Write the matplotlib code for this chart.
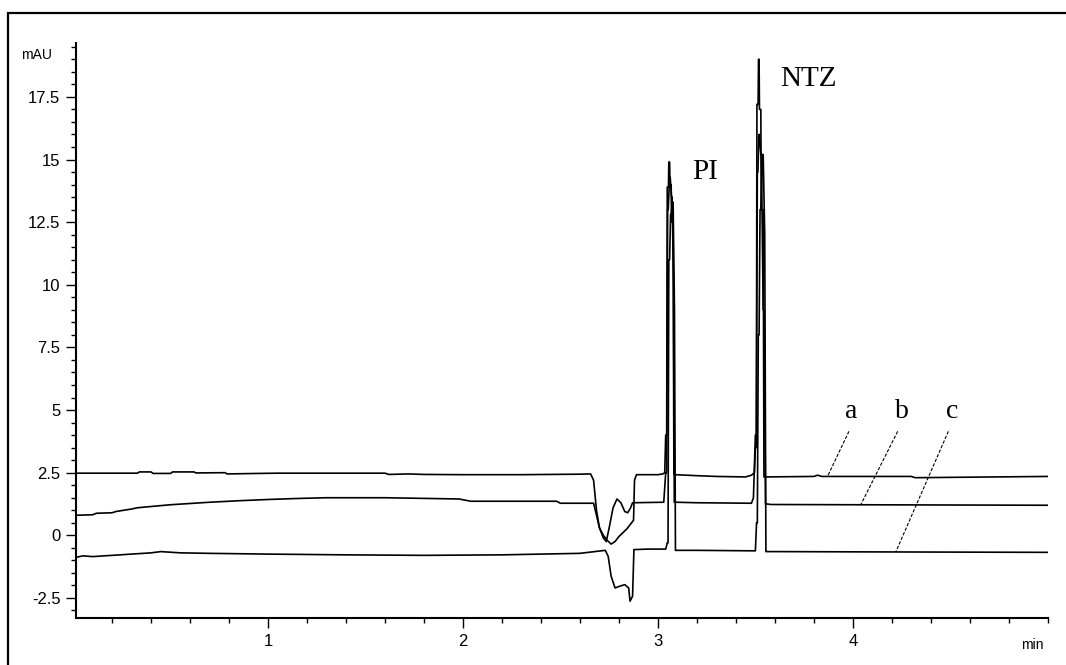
import matplotlib
matplotlib.use('Agg')
import matplotlib.pyplot as plt
from matplotlib.patches import Rectangle
from matplotlib.ticker import MultipleLocator, FixedLocator

# Chromatogram traces (time in min, signal in mAU)
a_time = [0.015, 0.33, 0.34, 0.40, 0.41, 0.50, 0.51, 0.62, 0.63, 0.78, 0.79, 0.95, 1.05,
          1.60, 1.62, 1.72, 1.80, 2.00, 2.30, 2.60, 2.655, 2.67, 2.685, 2.70, 2.72, 2.74,
          2.76, 2.78, 2.80, 2.82, 2.84, 2.86, 2.875, 2.88, 2.89, 3.00, 3.025,
          3.035, 3.040, 3.045, 3.048, 3.054, 3.056, 3.060, 3.062, 3.068, 3.070, 3.078,
          3.082, 3.09, 3.20, 3.30, 3.45, 3.48,
          3.495, 3.500, 3.505, 3.508, 3.514, 3.516, 3.519, 3.521, 3.528, 3.530, 3.540,
          3.544, 3.55, 3.80, 3.82, 3.84, 4.30, 4.32, 5.0]
a_signal = [2.48, 2.48, 2.53, 2.53, 2.47, 2.47, 2.53, 2.53, 2.49, 2.50, 2.45, 2.47, 2.48,
            2.48, 2.43, 2.45, 2.43, 2.42, 2.42, 2.44, 2.45, 2.2, 1.0, 0.3, 0.0, -0.2,
            -0.35, -0.25, -0.05, 0.1, 0.25, 0.45, 0.6, 2.2, 2.42, 2.42, 2.45,
            2.5, 4.0, 4.0, 13.9, 13.9, 14.9, 14.9, 14.0, 14.0, 12.5, 12.5,
            2.42, 2.42, 2.38, 2.35, 2.33, 2.40,
            2.5, 3.5, 3.5, 17.2, 17.2, 19.0, 19.0, 17.0, 17.0, 13.0, 13.0,
            2.33, 2.33, 2.35, 2.40, 2.35, 2.35, 2.30, 2.35]

b_time = [0.015, 0.10, 0.12, 0.20, 0.22, 0.30, 0.33, 0.40, 0.50, 0.60, 0.70, 0.85, 1.00,
          1.15, 1.30, 1.60, 1.98, 2.04, 2.48, 2.50, 2.67, 2.685, 2.70, 2.72, 2.735, 2.75,
          2.77, 2.79, 2.81, 2.83, 2.845, 2.86, 2.87, 3.03,
          3.040, 3.045, 3.050, 3.053, 3.060, 3.063, 3.070, 3.073, 3.080, 3.084, 3.095,
          3.20, 3.48, 3.49,
          3.500, 3.505, 3.510, 3.513, 3.518, 3.521, 3.528, 3.531, 3.540, 3.545, 3.552,
          3.56, 3.58, 4.00, 5.0]
b_signal = [0.80, 0.82, 0.88, 0.90, 0.95, 1.05, 1.10, 1.15, 1.22, 1.27, 1.32, 1.38, 1.43,
            1.47, 1.50, 1.50, 1.45, 1.36, 1.36, 1.28, 1.28, 0.8, 0.3, -0.1, -0.25, 0.3,
            1.1, 1.45, 1.3, 0.95, 0.9, 1.1, 1.3, 1.32,
            2.5, 2.5, 13.0, 13.0, 14.3, 14.3, 13.5, 13.5, 10.0, 1.32, 1.32,
            1.30, 1.28, 1.50,
            4.0, 4.0, 14.5, 14.5, 16.0, 16.0, 15.2, 15.2, 9.0, 9.0, 1.25,
            1.25, 1.23, 1.22, 1.20]

c_time = [0.015, 0.05, 0.10, 0.20, 0.30, 0.40, 0.45, 0.55, 0.70, 1.00, 1.40, 1.80, 2.20,
          2.60, 2.73, 2.745, 2.76, 2.78, 2.805, 2.83, 2.85, 2.857, 2.87, 2.877, 2.95,
          2.985, 3.04,
          3.048, 3.052, 3.056, 3.060, 3.065, 3.068, 3.074, 3.078, 3.085, 3.090, 3.10,
          3.20, 3.50,
          3.506, 3.510, 3.515, 3.519, 3.524, 3.528, 3.536, 3.540, 3.548, 3.554, 3.56,
          3.58, 3.60, 4.00, 5.0]
c_signal = [-0.88, -0.82, -0.85, -0.80, -0.75, -0.70, -0.65, -0.70, -0.72, -0.75, -0.78,
            -0.80, -0.78, -0.72, -0.60, -0.84, -1.63, -2.10, -2.03, -1.97, -2.10, -2.63,
            -2.43, -0.57, -0.55, -0.55, -0.55,
            -0.3, -0.3, 11.0, 11.0, 12.8, 12.8, 13.3, 13.3, 9.0, -0.6, -0.6,
            -0.6, -0.62,
            0.5, 0.5, 8.0, 8.0, 13.0, 13.0, 15.2, 15.2, 12.0, -0.65, -0.65,
            -0.65, -0.65, -0.66, -0.68]

# Peak labels and trace labels
peak_names = ['PI', 'NTZ']
peak_pos = [(3.24, 14.5), (3.77, 18.2)]
trace_names = ['a', 'b', 'c']
trace_label_pos = [(3.99, 4.95), (4.25, 4.95), (4.51, 4.95)]
leader_start = [(3.98, 4.15), (4.23, 4.15), (4.49, 4.15)]
leader_end = [(3.87, 2.35), (4.04, 1.21), (4.22, -0.67)]

fig = plt.figure(figsize=(10.66, 6.65), dpi=100)
ax = fig.add_axes([0.0713, 0.0707, 0.9118, 0.8646])

for t, s in [(a_time, a_signal), (b_time, b_signal), (c_time, c_signal)]:
    ax.plot(t, s, color='black', lw=1.2)

for name, (x, y) in zip(peak_names, peak_pos):
    ax.text(x, y, name, family='Liberation Serif', fontsize=21, ha='center', va='center')

for name, (x, y), (x0, y0), (x1, y1) in zip(trace_names, trace_label_pos, leader_start, leader_end):
    ax.text(x, y, name, family='Liberation Serif', fontsize=20, ha='center', va='center')
    ax.plot([x0, x1], [y0, y1], color='black', lw=0.8, linestyle=(0, (3, 1.5)))

ax.set_xlim(0.015, 5.001)
ax.set_ylim(-3.3, 19.65)
ax.xaxis.set_major_locator(FixedLocator([1, 2, 3, 4]))
ax.xaxis.set_minor_locator(MultipleLocator(0.2))
ax.yaxis.set_minor_locator(MultipleLocator(0.5))
ax.set_yticks([-2.5, 0, 2.5, 5, 7.5, 10, 12.5, 15, 17.5])
ax.set_yticklabels(['-2.5', '0', '2.5', '5', '7.5', '10', '12.5', '15', '17.5'])

for sp in ['top', 'right']:
    ax.spines[sp].set_visible(False)
for sp in ['left', 'bottom']:
    ax.spines[sp].set_linewidth(1.5)

ax.tick_params(which='major', direction='out', length=7.2, width=1.0, labelsize=12, pad=4)
ax.tick_params(which='minor', direction='out', length=3.6, width=1.0)
for lab in ax.get_xticklabels() + ax.get_yticklabels():
    lab.set_family('Liberation Sans')

fig.text(37 / 1066, 1 - 55 / 665, 'mAU', family='Liberation Sans', fontsize=10, ha='center', va='center')
fig.text(1032 / 1066, 1 - 645 / 665, 'min', family='Liberation Sans', fontsize=10, ha='center', va='center')

# frame round the whole picture
fig.patches.append(Rectangle((8 / 1066, -0.1), 2.0, 1 - 13 / 665 + 0.1, transform=fig.transFigure,
                             fill=False, edgecolor='black', lw=1.6))

fig.savefig('out.png', dpi=100)
